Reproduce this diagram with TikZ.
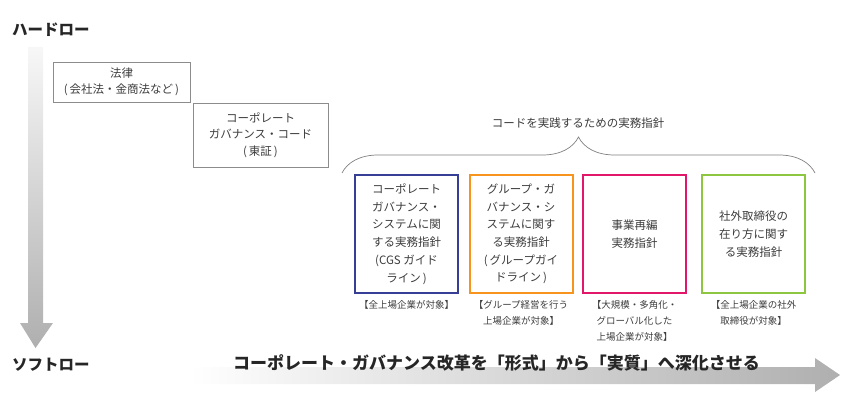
\documentclass[tikz,border=0pt]{standalone}
\usepackage{fontspec}
\newfontfamily\jp{Noto Sans CJK JP}
\usetikzlibrary{decorations.pathreplacing}
\definecolor{txtgray}{HTML}{3C3C3C}
\definecolor{boxgray}{HTML}{8C8C8C}
\definecolor{arrowgray}{HTML}{AFAFAF}
\definecolor{cgsblue}{HTML}{363E96}
\definecolor{grporange}{HTML}{F7941D}
\definecolor{restrpink}{HTML}{E2176A}
\definecolor{outgreen}{HTML}{8DC63F}

\begin{document}
\begin{tikzpicture}[x=1pt,y=-1pt,
    every node/.style={text=txtgray,inner sep=0pt},
    lawbox/.style={draw=boxgray,line width=0.8pt,align=center,
      font=\jp\fontsize{11.5}{16.5}\selectfont},
    guidebox/.style={draw=#1,line width=2pt,minimum width=103pt,minimum height=118pt,
      align=center,font=\jp\fontsize{11.5}{17.7}\selectfont},
    target/.style={anchor=north,align=center,font=\jp\fontsize{9.5}{16}\selectfont},
    heading/.style={anchor=west,text=black!85,font=\jp\bfseries\fontsize{15.5}{18}\selectfont}]
  \useasboundingbox (0,0) rectangle (851,404);

  % hard law -> soft law
  \shade[top color=gray!6,bottom color=arrowgray]
    (28,47) -- (43,47) -- (43,323) -- (53,323) -- (35.5,348) -- (20,323) -- (28,323) -- cycle;
  \node[heading] (hard) at (12,30) {ハードロー};
  \node[heading] (soft) at (12,365) {ソフトロー};

  % form -> substance
  \shade[left color=white,right color=arrowgray]
    (190,367) -- (815,367) -- (815,358) -- (840,375) -- (815,392) -- (815,384) -- (190,384) -- cycle;
  \node[heading,font=\jp\bfseries\fontsize{17}{20}\selectfont] (reform) at (233,363)
    {コーポレート・ガバナンス改革を「形式」から「実質」へ深化させる};

  \node[lawbox,minimum width=137pt,minimum height=40pt] (law) at (121.5,82)
    {法律\\(\,会社法・金商法など\,)};
  \node[lawbox,minimum width=135pt,minimum height=64pt] (cgcode) at (260.5,135)
    {コーポレート\\ガバナンス・コード\\(\,東証\,)};

  % practical guidelines
  \coordinate (brl) at (342,173);
  \coordinate (brr) at (815,173);
  \draw[gray,line width=0.7pt,decorate,decoration={brace,amplitude=36pt}] (brl) -- (brr);
  \node[font=\jp\fontsize{11.5}{14}\selectfont] (guide) at (578,123) {コードを実践するための実務指針};

  \node[guidebox=cgsblue] (cgs) at (406.5,234)
    {コーポレート\\ガバナンス・\\システムに関\\する実務指針\\(CGS ガイド\\ライン\,)};
  \node[guidebox=grporange] (grp) at (521,234)
    {グループ・ガ\\バナンス・シ\\ステムに関す\\る実務指針\\(\,グループガイ\\ドライン\,)};
  \node[guidebox=restrpink] (restr) at (634.5,234) {事業再編\\実務指針};
  \node[guidebox=outgreen] (outdir) at (753.5,234) {社外取締役の\\在り方に関す\\る実務指針};

  \node[target] (cgstgt) at (406.5,300) {【全上場企業が対象】};
  \node[target] (grptgt) at (521,300) {【グループ経営を行う\\上場企業が対象】};
  \node[target] (restrtgt) at (634.5,300) {【大規模・多角化・\\グローバル化した\\上場企業が対象】};
  \node[target] (outtgt) at (753.5,300) {【全上場企業の社外\\取締役が対象】};
\end{tikzpicture}
\end{document}
